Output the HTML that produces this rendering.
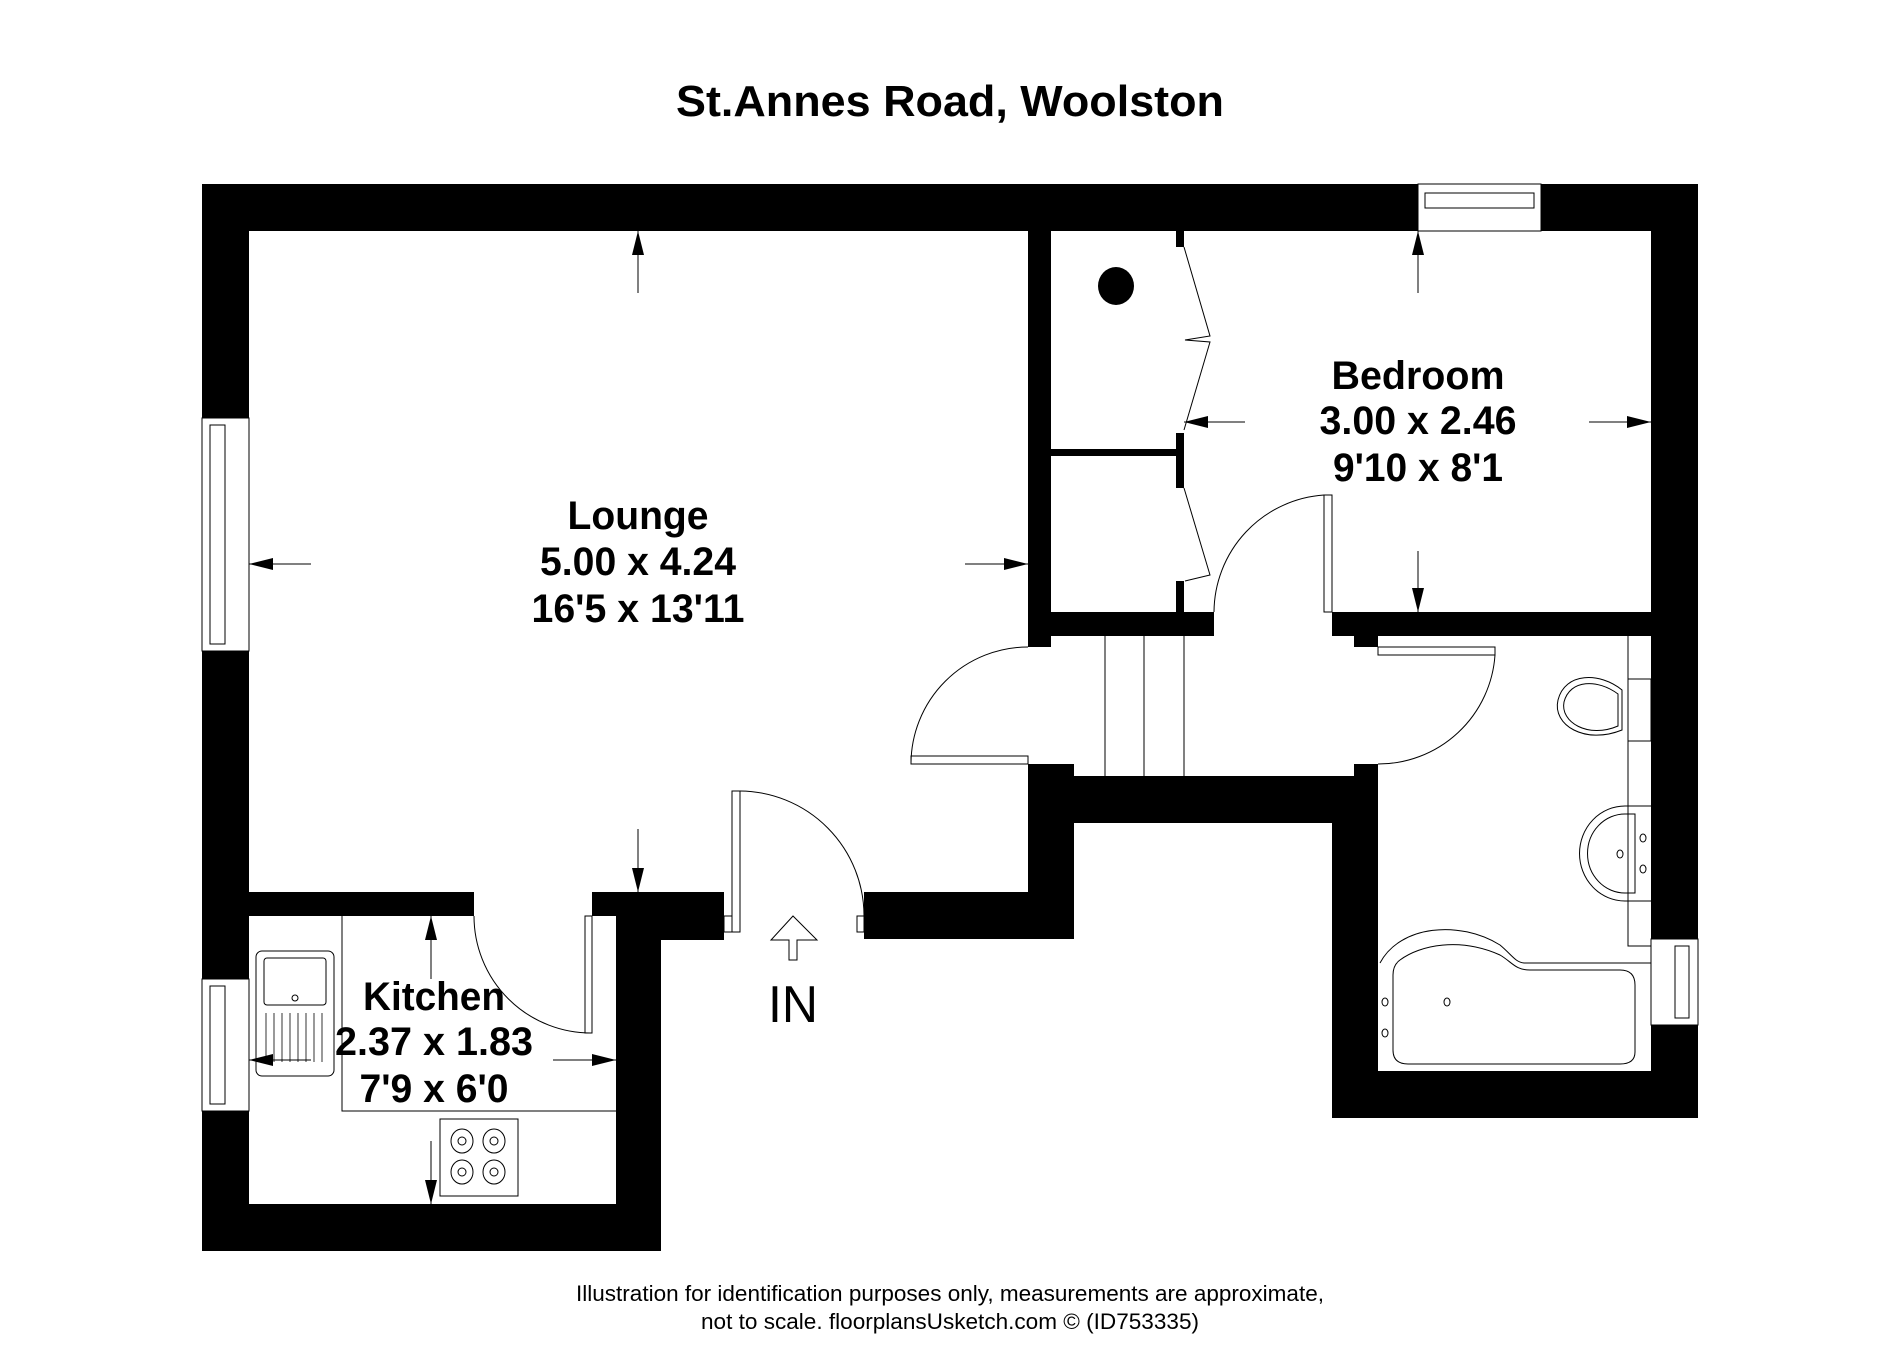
<!DOCTYPE html>
<html><head><meta charset="utf-8"><style>html,body{margin:0;padding:0;background:#fff}svg{display:block}</style></head>
<body>
<svg width="1900" height="1372" viewBox="0 0 1900 1372" xmlns="http://www.w3.org/2000/svg" font-family="Liberation Sans Narrow, Liberation Sans, Arial, sans-serif">
<defs>
<marker id="ahb" viewBox="0 0 20 10" refX="20" refY="5" markerWidth="24" markerHeight="12" markerUnits="userSpaceOnUse" orient="auto"><path d="M0,0 L20,5 L0,10 z" fill="#000"/></marker>
</defs>
<rect width="1900" height="1372" fill="#fff"/>
<text x="950" y="116" font-size="44" font-weight="bold" text-anchor="middle" textLength="548" lengthAdjust="spacingAndGlyphs">St.Annes Road, Woolston</text>

<g fill="#000">
<rect x="202" y="184" width="1496" height="47"/>
<rect x="202" y="184" width="47" height="1067"/>
<rect x="1651" y="184" width="47" height="934"/>
<rect x="1028" y="231" width="23" height="416"/>
<rect x="1028" y="764" width="46" height="175"/>
<rect x="1028" y="612" width="186" height="24"/>
<rect x="1332" y="612" width="366" height="24"/>
<rect x="1354" y="636" width="24" height="11"/>
<rect x="1176" y="231" width="8" height="16"/>
<rect x="1176" y="433" width="8" height="55"/>
<rect x="1176" y="581" width="8" height="31"/>
<rect x="1051" y="449" width="125" height="7"/>
<rect x="1028" y="776" width="350" height="47"/>
<rect x="1354" y="764" width="24" height="12"/>
<rect x="1332" y="823" width="46" height="295"/>
<rect x="1332" y="1071" width="366" height="47"/>
<rect x="864" y="892" width="210" height="47"/>
<rect x="202" y="892" width="272" height="24"/>
<rect x="592" y="892" width="132" height="24"/>
<rect x="616" y="916" width="108" height="24"/>
<rect x="616" y="916" width="45" height="335"/>
<rect x="202" y="1204" width="459" height="47"/>
<ellipse cx="1116" cy="286" rx="18" ry="19"/>
</g>

<g fill="#fff" stroke="#000" stroke-width="1">
<rect x="202" y="418" width="47" height="233"/>
<rect x="210" y="425" width="15" height="219"/>
<rect x="202" y="979" width="47" height="132"/>
<rect x="210" y="986" width="15" height="118"/>
<rect x="1418" y="184" width="123" height="47"/>
<rect x="1425" y="193" width="109" height="15"/>
<rect x="1651" y="939" width="47" height="86"/>
<rect x="1675" y="946" width="14" height="72"/>
<rect x="911" y="756" width="117" height="8"/>
<rect x="1324" y="495" width="8" height="117"/>
<rect x="1378" y="647" width="117" height="8"/>
<rect x="585" y="916" width="7" height="117"/>
<rect x="732" y="791" width="8" height="141"/>
<rect x="724" y="916" width="8" height="16"/>
<rect x="857" y="916" width="7" height="16"/>
</g>

<g fill="none" stroke="#000" stroke-width="1">
<path d="M1028,647 A117,117 0 0 0 911,764"/>
<path d="M1324,495 A118,118 0 0 0 1214,612"/>
<path d="M1495,655 A117,117 0 0 1 1378,764"/>
<path d="M474,916 A117,117 0 0 0 592,1033"/>
<path d="M740,791 A125,125 0 0 1 864,916"/>
<polyline points="1184,247 1210,336 1185,340 1210,342 1184,430"/>
<polyline points="1184,488 1210,575 1185,581"/>
<line x1="1105" y1="636" x2="1105" y2="776"/>
<line x1="1144" y1="636" x2="1144" y2="776"/>
<line x1="1184" y1="636" x2="1184" y2="776"/>
<polyline points="1628,636 1628,946 1651,946"/>
<rect x="1628" y="679" width="23" height="62" fill="#fff"/>
<path d="M1622,690 C1600,672 1565,672 1558,700 C1552,725 1585,745 1622,730 Z"/>
<path d="M1618,694 C1598,679 1570,679 1564,702 C1560,722 1588,739 1618,726 Z"/>
<path d="M1651,806 L1625,806 A45,47 0 0 0 1625,901 L1651,901"/>
<path d="M1635,814 L1625,814 A37,39 0 0 0 1625,893 L1635,893 Z"/>
<ellipse cx="1643" cy="838" rx="3" ry="4"/><ellipse cx="1643" cy="869" rx="3" ry="4"/><ellipse cx="1620" cy="854" rx="3" ry="4"/>
<path d="M1380,963 C1400,925 1460,920 1500,945 C1512,955 1515,962 1524,963 L1651,963"/>
<path d="M1400,960 C1420,945 1460,937 1500,955 C1512,962 1515,970 1530,970 L1620,970 Q1635,970 1635,985 L1635,1052 Q1635,1064 1620,1064 L1408,1064 Q1393,1064 1393,1050 L1393,975 Q1393,965 1400,960 Z"/>
<ellipse cx="1385" cy="1002" rx="3" ry="4"/><ellipse cx="1385" cy="1033" rx="3" ry="4"/><ellipse cx="1447" cy="1002" rx="3" ry="4"/>
<polyline points="342,916 342,1111 616,1111"/>
<rect x="256" y="951" width="78" height="125" rx="6"/>
<rect x="264" y="958" width="62" height="47" rx="3"/>
<circle cx="295" cy="998" r="3"/>
<g stroke-width="0.8">
<line x1="266" y1="1013" x2="266" y2="1062"/><line x1="274" y1="1013" x2="274" y2="1062"/><line x1="282" y1="1013" x2="282" y2="1062"/><line x1="290" y1="1013" x2="290" y2="1062"/><line x1="298" y1="1013" x2="298" y2="1062"/><line x1="306" y1="1013" x2="306" y2="1062"/><line x1="314" y1="1013" x2="314" y2="1062"/><line x1="322" y1="1013" x2="322" y2="1062"/>
</g>
<rect x="440" y="1119" width="78" height="77"/>
<ellipse cx="462" cy="1141" rx="11" ry="12"/><ellipse cx="462" cy="1141" rx="4" ry="4"/>
<ellipse cx="494" cy="1141" rx="11" ry="12"/><ellipse cx="494" cy="1141" rx="4" ry="4"/>
<ellipse cx="462" cy="1172" rx="11" ry="12"/><ellipse cx="462" cy="1172" rx="4" ry="4"/>
<ellipse cx="494" cy="1172" rx="11" ry="12"/><ellipse cx="494" cy="1172" rx="4" ry="4"/>
<path d="M789,960 L789,940 L771,940 L793,916 L817,940 L797,940 L797,960 Z"/>
</g>

<g stroke="#000" stroke-width="1" marker-end="url(#ahb)">
<line x1="638" y1="293" x2="638" y2="231"/>
<line x1="311" y1="564" x2="249" y2="564"/>
<line x1="965" y1="564" x2="1028" y2="564"/>
<line x1="638" y1="829" x2="638" y2="892"/>
<line x1="1418" y1="293" x2="1418" y2="231"/>
<line x1="1245" y1="422" x2="1184" y2="422"/>
<line x1="1589" y1="422" x2="1651" y2="422"/>
<line x1="1418" y1="551" x2="1418" y2="612"/>
<line x1="431" y1="979" x2="431" y2="916"/>
<line x1="311" y1="1060" x2="249" y2="1060"/>
<line x1="553" y1="1060" x2="616" y2="1060"/>
<line x1="431" y1="1141" x2="431" y2="1204"/>
</g>

<g font-size="40" font-weight="bold" text-anchor="middle">
<text x="638" y="529" textLength="141" lengthAdjust="spacingAndGlyphs">Lounge</text>
<text x="638" y="575" textLength="196" lengthAdjust="spacingAndGlyphs">5.00 x 4.24</text>
<text x="638" y="622" textLength="213" lengthAdjust="spacingAndGlyphs">16'5 x 13'11</text>
<text x="1418" y="389" textLength="173" lengthAdjust="spacingAndGlyphs">Bedroom</text>
<text x="1418" y="434" textLength="197" lengthAdjust="spacingAndGlyphs">3.00 x 2.46</text>
<text x="1418" y="481" textLength="170" lengthAdjust="spacingAndGlyphs">9'10 x 8'1</text>
<text x="434" y="1010" textLength="142" lengthAdjust="spacingAndGlyphs">Kitchen</text>
<text x="434" y="1055" textLength="198" lengthAdjust="spacingAndGlyphs">2.37 x 1.83</text>
<text x="434" y="1102" textLength="149" lengthAdjust="spacingAndGlyphs">7'9 x 6'0</text>
</g>
<text x="793" y="1022" font-size="52" text-anchor="middle" textLength="50" lengthAdjust="spacingAndGlyphs">IN</text>
<g font-size="22" text-anchor="middle">
<text x="950" y="1301" textLength="748" lengthAdjust="spacingAndGlyphs">Illustration for identification purposes only, measurements are approximate,</text>
<text x="950" y="1329" textLength="498" lengthAdjust="spacingAndGlyphs">not to scale. floorplansUsketch.com © (ID753335)</text>
</g>
</svg>
</body></html>
